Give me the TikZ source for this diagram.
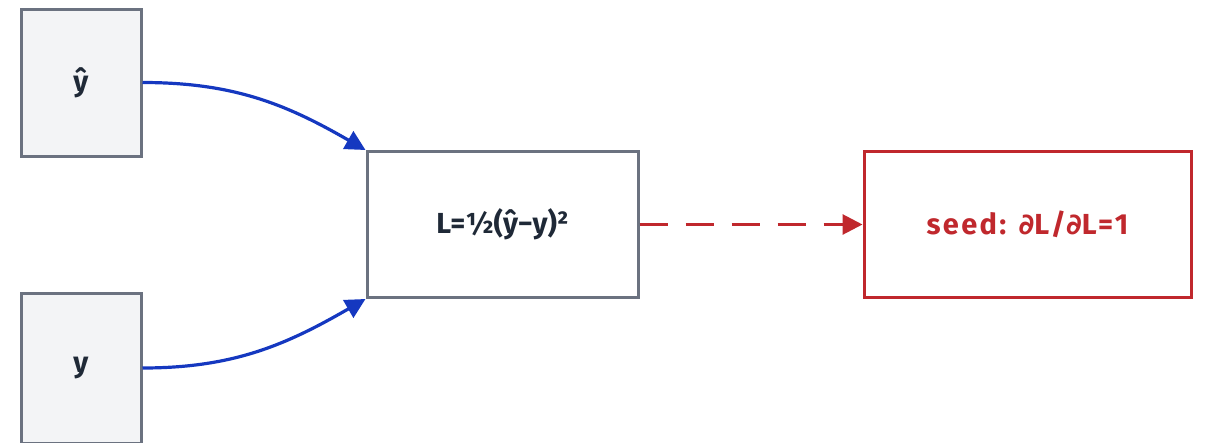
\documentclass[tikz,border=0pt]{standalone}
\usepackage{fontspec}
\setmainfont{Fira Sans}[BoldFont={* Bold}]
\newfontfamily\spacedfont{Fira Sans}[BoldFont={* Bold}, LetterSpace=8]
\newfontfamily\symfont{DejaVu Sans}[BoldFont={* Bold}]
\usetikzlibrary{arrows.meta}
\definecolor{boxgray}{HTML}{6B7280}
\definecolor{boxfill}{HTML}{F3F4F6}
\definecolor{ink}{HTML}{1F2937}
\definecolor{flowblue}{HTML}{1538C0}
\definecolor{seedred}{HTML}{C0282D}
\newcommand{\pd}{{\symfont\bfseries ∂}}
\tikzset{
  valbox/.style={draw=boxgray, fill=boxfill, line width=3pt, minimum width=120pt, minimum height=147pt, inner sep=0pt, font=\fontsize{29}{33}\selectfont\bfseries, text=ink},
  opbox/.style={draw=boxgray, fill=white, line width=3pt, minimum width=271pt, minimum height=146pt, inner sep=0pt, font=\fontsize{29}{33}\selectfont\bfseries, text=ink},
  seedbox/.style={draw=seedred, fill=white, line width=3pt, minimum width=327pt, minimum height=146pt, inner sep=0pt, font=\spacedfont\fontsize{29}{33}\selectfont\bfseries, text=seedred},
  flow/.style={draw=flowblue, line width=3.2pt, -{Triangle[length=20pt,width=20pt]}},
  seedflow/.style={draw=seedred, line width=3pt, dash pattern=on 28pt off 18pt, -{Triangle[length=20pt,width=20pt]}}
}
\begin{document}
\begin{tikzpicture}[x=1pt,y=-1pt]
\useasboundingbox (0,0) rectangle (1210,442);
\clip (0,0) rectangle (1210,442);
\node[valbox] (yhat) at (81,82.5) {ŷ};
\node[valbox, minimum height=150pt] (y) at (81,368) {y};
\node[opbox] (L) at (502.5,224.5) {L=½(ŷ−y)²};
\node[seedbox] (seed) at (1027.5,224.5) {seed: \pd L/\pd L=1};
\draw[flow] (yhat.east) to[out=0,in=150] (L.north west);
\draw[flow] (y.east) to[out=0,in=210] (L.south west);
\draw[seedflow] (L.east) -- (seed.west);
\end{tikzpicture}
\end{document}
